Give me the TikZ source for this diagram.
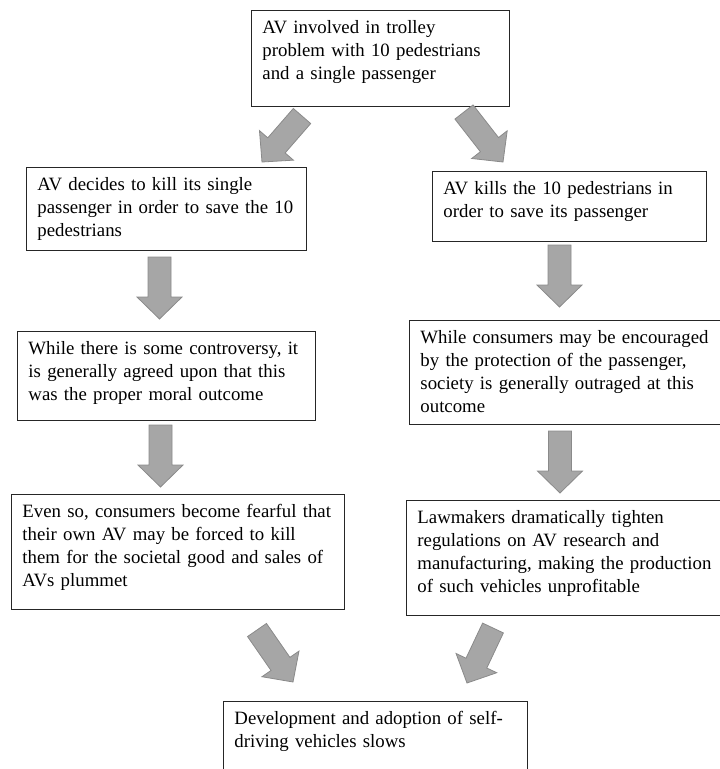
\documentclass[tikz,border=0pt]{standalone}
\usepackage{fontspec}
\setmainfont{Liberation Serif}
\usetikzlibrary{calc}
\definecolor{arrowfill}{RGB}{166,166,166}
\definecolor{arrowline}{RGB}{138,138,138}

\begin{document}
\begin{tikzpicture}[x=1pt, y=1pt]
\tikzstyle{stepbox}=[draw=black!85, line width=0.9pt, anchor=north west, align=left,
                        inner xsep=11pt, inner ysep=6pt, text height=17pt,
                        font=\fontsize{18.8}{23}\selectfont]
\tikzstyle{bigarrow}=[draw=arrowline, fill=arrowfill, line width=0.8pt, line join=miter,
	to path={let \p1=(\tikztostart), \p2=(\tikztotarget),
		\n1={atan2(\y2-\y1,\x2-\x1)}, \n2={veclen(\x2-\x1,\y2-\y1)-22} in
		($(\p1)+(\n1+90:11.5)$) -- ($(\p1)+(\n1:\n2)+(\n1+90:11.5)$)
		-- ($(\p1)+(\n1:\n2)+(\n1+90:22.5)$) -- (\p2)
		-- ($(\p1)+(\n1:\n2)+(\n1-90:22.5)$) -- ($(\p1)+(\n1:\n2)+(\n1-90:11.5)$)
		-- ($(\p1)+(\n1-90:11.5)$) -- cycle}]
\useasboundingbox (0,0) rectangle (720,-769);
\clip (0,0) rectangle (720,-769);
	\node[stepbox, text width=236pt, text depth=67pt] (top) at (251,-10)
		{AV involved in trolley\\problem with 10 pedestrians\\and a single passenger};
	\node[stepbox, text width=258pt, text depth=54pt] (save10) at (26,-167)
		{AV decides to kill its single\\\mbox{passenger in order to save the 10}\\pedestrians};
	\node[stepbox, text width=252pt, text depth=41pt] (save1) at (432,-171)
		{AV kills the 10 pedestrians in\\order to save its passenger};
	\node[stepbox, text width=276pt, text depth=60pt] (moral) at (17,-331)
		{While there is some controversy, it\\is generally agreed upon that this\\was the proper moral outcome};
	\node[stepbox, text width=318pt, text depth=75pt] (outrage) at (409,-320)
		{While consumers may be encouraged\\by the protection of the passenger,\\society is generally outraged at this\\outcome};
	\node[stepbox, text width=311pt, text depth=86pt] (fear) at (11,-494)
		{\mbox{Even so, consumers become fearful that}\\their own AV may be forced to kill\\\mbox{them for the societal good and sales of}\\AVs plummet};
	\node[stepbox, text width=318pt, text depth=86pt] (laws) at (406,-500)
		{Lawmakers dramatically tighten\\regulations on AV research and\\manufacturing, making the production\\of such vehicles unprofitable};
	\node[stepbox, text width=282pt, text depth=80pt] (slow) at (223,-701)
		{Development and adoption of self-\\driving vehicles slows};
% arrow ends
	\coordinate (top-l) at (302,-116);
	\coordinate (save10-in) at (262,-162);
	\coordinate (top-r) at (464,-112);
	\coordinate (save1-in) at (503,-162);
	\coordinate (save10-out) at (159.5,-257);
	\coordinate (moral-in) at (159.5,-319);
	\coordinate (moral-out) at (160.5,-425);
	\coordinate (fear-in) at (160.5,-487);
	\coordinate (save1-out) at (559.5,-245);
	\coordinate (outrage-in) at (559.5,-307);
	\coordinate (outrage-out) at (560,-431);
	\coordinate (laws-in) at (560,-493);
	\coordinate (fear-out) at (257,-630);
	\coordinate (slow-l) at (293,-682);
	\coordinate (laws-out) at (493,-628);
	\coordinate (slow-r) at (467,-683);
\draw[bigarrow] (top-l) to (save10-in);
\draw[bigarrow] (top-r) to (save1-in);
\draw[bigarrow] (save10-out) to (moral-in);
\draw[bigarrow] (moral-out) to (fear-in);
\draw[bigarrow] (save1-out) to (outrage-in);
\draw[bigarrow] (outrage-out) to (laws-in);
\draw[bigarrow] (fear-out) to (slow-l);
\draw[bigarrow] (laws-out) to (slow-r);
\end{tikzpicture}
\end{document}
